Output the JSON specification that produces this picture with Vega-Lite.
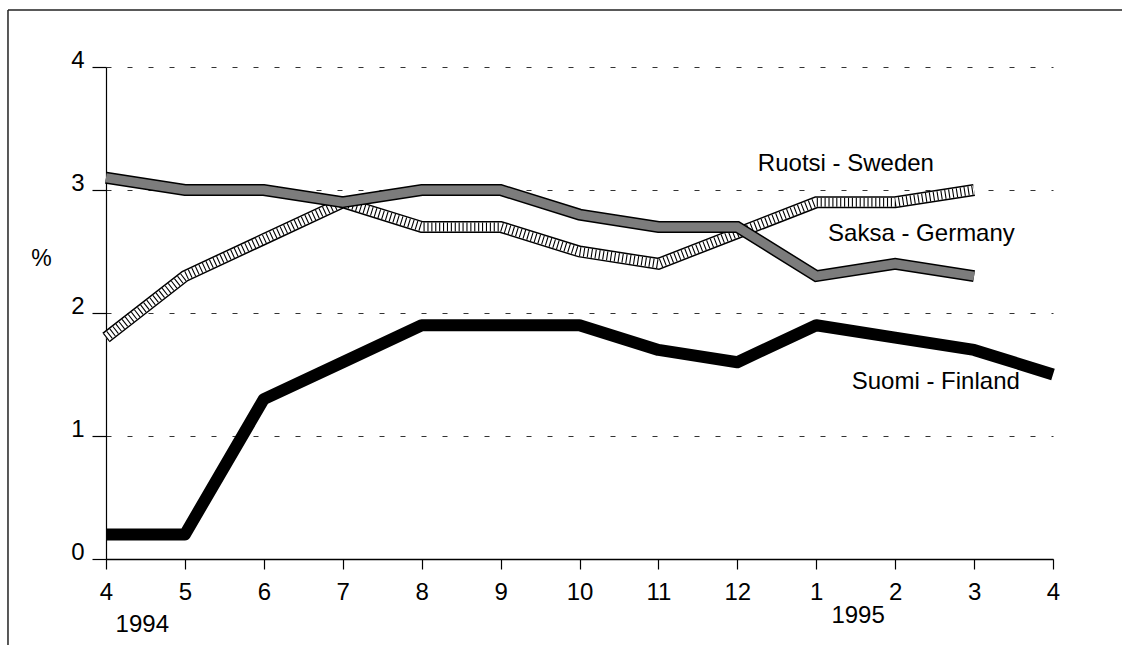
{
  "$schema": "https://vega.github.io/schema/vega-lite/v6.json",
  "autosize": "none",
  "width": 947,
  "height": 492,
  "padding": {"left": 106, "top": 67, "right": 69, "bottom": 86},
  "background": "white",
  "config": {
    "font": "Liberation Sans",
    "view": {"stroke": null},
    "axis": {"labelFont": "Liberation Sans", "titleFont": "Liberation Sans", "labelColor": "black", "titleColor": "black", "domainColor": "black", "tickColor": "black"}
  },
  "data": {"values": [
      {"i": 0, "country": "Sweden", "value": 1.8},
      {"i": 1, "country": "Sweden", "value": 2.3},
      {"i": 2, "country": "Sweden", "value": 2.6},
      {"i": 3, "country": "Sweden", "value": 2.9},
      {"i": 4, "country": "Sweden", "value": 2.7},
      {"i": 5, "country": "Sweden", "value": 2.7},
      {"i": 6, "country": "Sweden", "value": 2.5},
      {"i": 7, "country": "Sweden", "value": 2.4},
      {"i": 8, "country": "Sweden", "value": 2.65},
      {"i": 9, "country": "Sweden", "value": 2.9},
      {"i": 10, "country": "Sweden", "value": 2.9},
      {"i": 11, "country": "Sweden", "value": 3.0},
      {"i": 0, "country": "Germany", "value": 3.1},
      {"i": 1, "country": "Germany", "value": 3.0},
      {"i": 2, "country": "Germany", "value": 3.0},
      {"i": 3, "country": "Germany", "value": 2.9},
      {"i": 4, "country": "Germany", "value": 3.0},
      {"i": 5, "country": "Germany", "value": 3.0},
      {"i": 6, "country": "Germany", "value": 2.8},
      {"i": 7, "country": "Germany", "value": 2.7},
      {"i": 8, "country": "Germany", "value": 2.7},
      {"i": 9, "country": "Germany", "value": 2.3},
      {"i": 10, "country": "Germany", "value": 2.4},
      {"i": 11, "country": "Germany", "value": 2.3},
      {"i": 0, "country": "Finland", "value": 0.2},
      {"i": 1, "country": "Finland", "value": 0.2},
      {"i": 2, "country": "Finland", "value": 1.3},
      {"i": 3, "country": "Finland", "value": 1.6},
      {"i": 4, "country": "Finland", "value": 1.9},
      {"i": 5, "country": "Finland", "value": 1.9},
      {"i": 6, "country": "Finland", "value": 1.9},
      {"i": 7, "country": "Finland", "value": 1.7},
      {"i": 8, "country": "Finland", "value": 1.6},
      {"i": 9, "country": "Finland", "value": 1.9},
      {"i": 10, "country": "Finland", "value": 1.8},
      {"i": 11, "country": "Finland", "value": 1.7},
      {"i": 12, "country": "Finland", "value": 1.5}
  ]},
  "encoding": {
    "x": {
      "field": "i", "type": "quantitative",
      "scale": {"domain": [0, 12], "nice": false, "zero": false},
      "axis": {
        "title": null, "values": [0,1,2,3,4,5,6,7,8,9,10,11,12],
        "labelExpr": "((datum.value + 3) % 12) + 1",
        "grid": false, "tickSize": 10, "tickWidth": 1.2, "domainWidth": 1.5,
        "labelFontSize": 24, "labelBaseline": "alphabetic", "labelPadding": 30, "labelFlush": false
      }
    },
    "y": {
      "field": "value", "type": "quantitative",
      "scale": {"domain": [0, 4], "nice": false},
      "axis": {
        "title": "%", "titleAngle": 0, "titleFontSize": 23, "titleFontWeight": "normal",
        "titleX": -65, "titleY": 198, "titleAlign": "center", "titleBaseline": "alphabetic",
        "values": [0,1,2,3,4], "grid": true, "gridDash": [5, 16], "gridColor": "#333333", "gridWidth": 1,
        "tickSize": 14, "tickWidth": 1.2, "domainWidth": 1.2,
        "labelFontSize": 24, "labelBaseline": "alphabetic", "labelPadding": 8, "labelFlush": false
      }
    }
  },
  "layer": [
    {
      "transform": [{"filter": "datum.country === 'Finland' && datum.i === 0"}],
      "mark": {"type": "rule", "color": "#222222", "strokeWidth": 1.5, "clip": false},
      "encoding": {"x": {"datum": -1.242, "type": "quantitative"}, "x2": {"datum": -1.242}, "y": {"datum": 4.463, "type": "quantitative"}, "y2": {"datum": -0.75}}
    },
    {
      "transform": [{"filter": "datum.country === 'Finland' && datum.i === 0"}],
      "mark": {"type": "rule", "color": "#222222", "strokeWidth": 1.5, "clip": false},
      "encoding": {"y": {"datum": 4.463, "type": "quantitative"}, "y2": {"datum": 4.463}, "x": {"datum": -1.242, "type": "quantitative"}, "x2": {"datum": 13.6}}
    },
    {
      "transform": [{"filter": "datum.country === 'Sweden'"}],
      "mark": {"type": "line", "color": "black", "strokeWidth": 12, "strokeCap": "butt", "strokeJoin": "miter"}
    },
    {
      "transform": [{"filter": "datum.country === 'Sweden'"}],
      "mark": {"type": "line", "color": "white", "strokeWidth": 9, "strokeCap": "butt", "strokeJoin": "miter"}
    },
    {
      "transform": [{"filter": "datum.country === 'Sweden'"}],
      "mark": {"type": "line", "color": "black", "strokeWidth": 9, "strokeCap": "butt", "strokeJoin": "miter", "strokeDash": [1.1, 2.8]}
    },
    {
      "transform": [{"filter": "datum.country === 'Germany'"}],
      "mark": {"type": "line", "color": "black", "strokeWidth": 12, "strokeCap": "butt", "strokeJoin": "miter"}
    },
    {
      "transform": [{"filter": "datum.country === 'Germany'"}],
      "mark": {"type": "line", "color": "#7c7c7c", "strokeWidth": 9, "strokeCap": "butt", "strokeJoin": "miter"}
    },
    {
      "transform": [{"filter": "datum.country === 'Finland'"}],
      "mark": {"type": "line", "color": "black", "strokeWidth": 12, "strokeCap": "butt", "strokeJoin": "round"}
    },
    {
      "transform": [{"filter": "datum.country === 'Finland' && datum.i === 0"}],
      "mark": {"type": "text", "text": "Ruotsi - Sweden", "fontSize": 24, "align": "left", "baseline": "middle", "color": "black"},
      "encoding": {"x": {"datum": 8.26, "type": "quantitative"}, "y": {"datum": 3.21, "type": "quantitative"}}
    },
    {
      "transform": [{"filter": "datum.country === 'Finland' && datum.i === 0"}],
      "mark": {"type": "text", "text": "Saksa - Germany", "fontSize": 24, "align": "left", "baseline": "middle", "color": "black"},
      "encoding": {"x": {"datum": 9.15, "type": "quantitative"}, "y": {"datum": 2.64, "type": "quantitative"}}
    },
    {
      "transform": [{"filter": "datum.country === 'Finland' && datum.i === 0"}],
      "mark": {"type": "text", "text": "Suomi - Finland", "fontSize": 24, "align": "left", "baseline": "middle", "color": "black"},
      "encoding": {"x": {"datum": 9.45, "type": "quantitative"}, "y": {"datum": 1.44, "type": "quantitative"}}
    },
    {
      "transform": [{"filter": "datum.country === 'Finland' && datum.i === 0"}],
      "mark": {"type": "text", "text": "1994", "fontSize": 24, "align": "center", "baseline": "alphabetic", "color": "black"},
      "encoding": {"x": {"datum": 0.46, "type": "quantitative"}, "y": {"datum": -0.594, "type": "quantitative"}}
    },
    {
      "transform": [{"filter": "datum.country === 'Finland' && datum.i === 0"}],
      "mark": {"type": "text", "text": "1995", "fontSize": 24, "align": "center", "baseline": "alphabetic", "color": "black"},
      "encoding": {"x": {"datum": 9.53, "type": "quantitative"}, "y": {"datum": -0.52, "type": "quantitative"}}
    }
  ]
}
